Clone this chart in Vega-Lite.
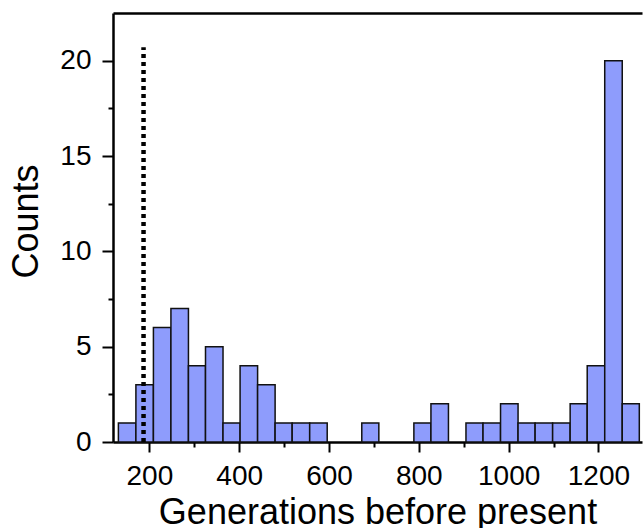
{
  "$schema": "https://vega.github.io/schema/vega-lite/v6.json",
  "width": 529,
  "height": 429,
  "autosize": {"type": "none"},
  "padding": {"left": 113, "top": 13, "right": 1, "bottom": 86},
  "background": "white",
  "config": {"view": {"stroke": null}, "font": "Liberation Sans"},
  "resolve": {"axis": {"x": "independent", "y": "independent"}},
  "layer": [
    {
      "data": {"values": [
        {"bin_start": 131, "bin_end": 170, "count": 1},
        {"bin_start": 170, "bin_end": 209, "count": 3},
        {"bin_start": 209, "bin_end": 248, "count": 6},
        {"bin_start": 248, "bin_end": 287, "count": 7},
        {"bin_start": 287, "bin_end": 325, "count": 4},
        {"bin_start": 325, "bin_end": 364, "count": 5},
        {"bin_start": 364, "bin_end": 402, "count": 1},
        {"bin_start": 402, "bin_end": 441, "count": 4},
        {"bin_start": 441, "bin_end": 480, "count": 3},
        {"bin_start": 480, "bin_end": 518, "count": 1},
        {"bin_start": 518, "bin_end": 557, "count": 1},
        {"bin_start": 557, "bin_end": 596, "count": 1},
        {"bin_start": 673, "bin_end": 711, "count": 1},
        {"bin_start": 789, "bin_end": 827, "count": 1},
        {"bin_start": 827, "bin_end": 866, "count": 2},
        {"bin_start": 905, "bin_end": 943, "count": 1},
        {"bin_start": 943, "bin_end": 982, "count": 1},
        {"bin_start": 982, "bin_end": 1021, "count": 2},
        {"bin_start": 1021, "bin_end": 1059, "count": 1},
        {"bin_start": 1059, "bin_end": 1098, "count": 1},
        {"bin_start": 1098, "bin_end": 1137, "count": 1},
        {"bin_start": 1137, "bin_end": 1175, "count": 2},
        {"bin_start": 1175, "bin_end": 1214, "count": 4},
        {"bin_start": 1214, "bin_end": 1253, "count": 20},
        {"bin_start": 1253, "bin_end": 1291, "count": 2}
      ]},
      "mark": {"type": "bar", "fill": "#8E9CFC", "stroke": "#111111", "strokeWidth": 1.5},
      "encoding": {
        "x": {
          "field": "bin_start", "type": "quantitative",
          "scale": {"domain": [119, 1297], "nice": false, "zero": false},
          "axis": {
            "values": [200, 300, 400, 500, 600, 700, 800, 900, 1000, 1100, 1200],
            "labelExpr": "datum.value % 200 === 0 ? datum.label : ''",
            "format": "d",
            "tickSize": {"condition": {"test": "datum.value % 200 === 0", "value": 10}, "value": 5},
            "tickWidth": 2, "tickColor": "black",
            "domainWidth": 2.5, "domainColor": "black",
            "labelFontSize": 28, "labelColor": "black", "labelPadding": 10,
            "labelFlush": false, "labelOverlap": false,
            "title": "Generations before present",
            "titleFontSize": 36, "titleFontWeight": "normal", "titleColor": "black", "titlePadding": 5,
            "grid": false
          }
        },
        "x2": {"field": "bin_end"},
        "y": {
          "field": "count", "type": "quantitative",
          "scale": {"domain": [0, 22.5], "nice": false},
          "axis": {
            "values": [0, 2.5, 5, 7.5, 10, 12.5, 15, 17.5, 20],
            "labelExpr": "datum.value % 5 === 0 ? datum.label : ''",
            "tickSize": {"condition": {"test": "datum.value % 5 === 0", "value": 11}, "value": 5},
            "tickWidth": 2, "tickColor": "black",
            "domainWidth": 2.5, "domainColor": "black",
            "labelFontSize": 28, "labelColor": "black", "labelPadding": 11,
            "labelFlush": false, "labelOverlap": false,
            "title": "Counts", "titleY": 208,
            "titleFontSize": 36, "titleFontWeight": "normal", "titleColor": "black", "titlePadding": 14,
            "grid": false
          }
        },
        "y2": {"datum": 0}
      }
    },
    {
      "data": {"values": [{"gen": 187, "y0": 0, "y1": 20.7}]},
      "mark": {"type": "rule", "strokeDash": [4, 4], "strokeWidth": 4.5, "color": "black"},
      "encoding": {
        "x": {
          "field": "gen", "type": "quantitative",
          "axis": {"orient": "top", "labels": false, "ticks": false, "domainWidth": 2.5, "domainColor": "black", "title": null, "grid": false}
        },
        "y": {"field": "y0", "type": "quantitative", "axis": null},
        "y2": {"field": "y1"}
      }
    }
  ]
}
